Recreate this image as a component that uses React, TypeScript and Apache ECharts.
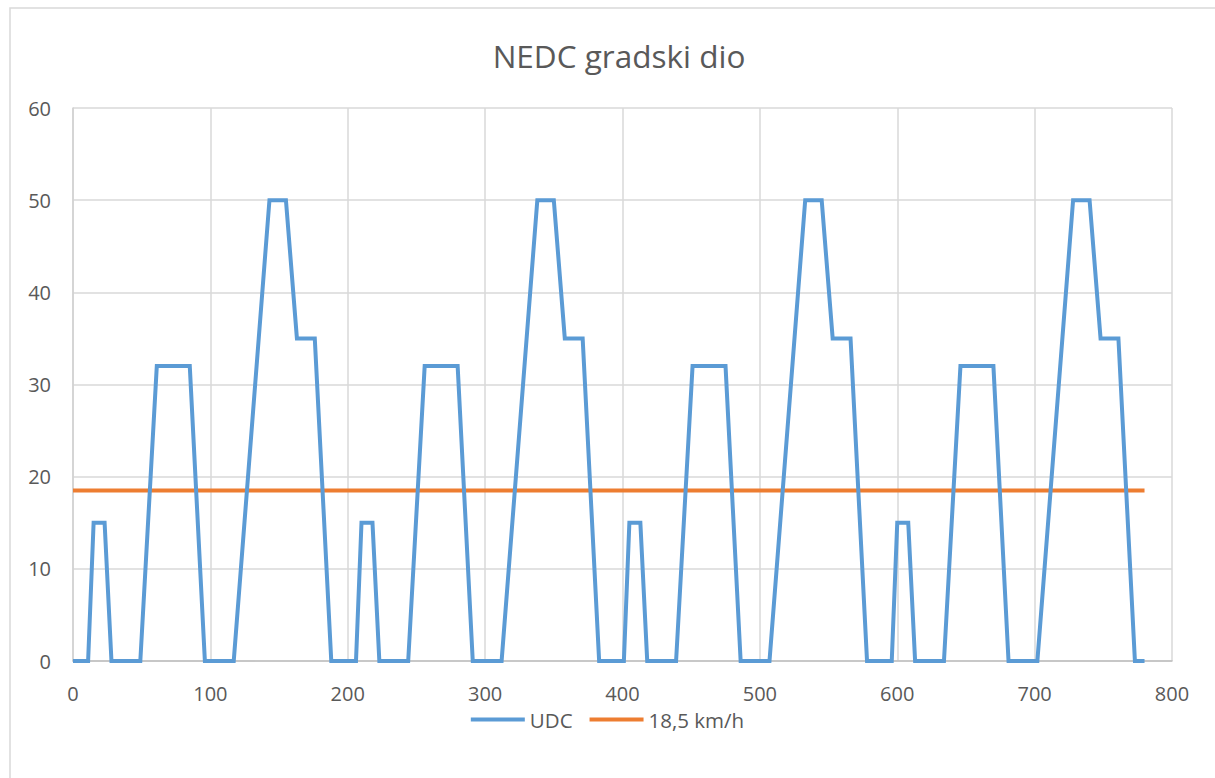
import React, { useEffect, useRef } from "react";
import * as echarts from "echarts";

const titleText = "NEDC gradski dio";
const udcName = "UDC";
const refName = "18,5 km/h";

// time (s) of each breakpoint of the four repeated urban cycles
const udcTime = [
  0, 11, 15, 23, 28, 49, 61, 85, 96, 117, 143, 155, 163, 176, 188,
  195, 206, 210, 218, 223, 244, 256, 280, 291, 312, 338, 350, 358, 371, 383,
  390, 401, 405, 413, 418, 439, 451, 475, 486, 507, 533, 545, 553, 566, 578,
  585, 596, 600, 608, 613, 634, 646, 670, 681, 702, 728, 740, 748, 761, 773,
  780,
];
// speed (km/h) at each breakpoint
const udcSpeed = [
  0, 0, 15, 15, 0, 0, 32, 32, 0, 0, 50, 50, 35, 35, 0,
  0, 0, 15, 15, 0, 0, 32, 32, 0, 0, 50, 50, 35, 35, 0,
  0, 0, 15, 15, 0, 0, 32, 32, 0, 0, 50, 50, 35, 35, 0,
  0, 0, 15, 15, 0, 0, 32, 32, 0, 0, 50, 50, 35, 35, 0,
  0,
];
const refTime = [0, 780];
const refSpeed = [18.5, 18.5];

export default function App() {
  const ref = useRef<HTMLDivElement>(null);
  useEffect(() => {
    if (!ref.current) return;
    const chart = echarts.init(ref.current, null, { renderer: "svg" });
    const font = "'Open Sans', sans-serif";
    chart.setOption({
      animation: false,
      textStyle: { fontFamily: font, color: "#595959" },
      graphic: [
        {
          type: "rect",
          shape: { x: 10, y: 8, width: 1400, height: 1000 },
          style: { fill: "none", stroke: "#d9d9d9", lineWidth: 1.5 },
          silent: true,
        },
      ],
      title: {
        text: titleText,
        left: 614,
        top: 34,
        textAlign: "center",
        textStyle: {
          fontFamily: font,
          fontSize: 31.5,
          fontWeight: "normal",
          color: "#595959",
        },
      },
      legend: {
        bottom: 43,
        left: "center",
        itemWidth: 54,
        itemHeight: 4,
        itemGap: 17,
        icon: "rect",
        textStyle: { fontFamily: font, fontSize: 20.5, color: "#595959" },
        data: [udcName, refName],
      },
      grid: { left: 73, right: 43, top: 108, bottom: 117, containLabel: false },
      xAxis: {
        type: "value",
        min: 0,
        max: 800,
        interval: 100,
        axisLine: { show: true, lineStyle: { color: "#bfbfbf", width: 1.5 } },
        axisTick: { show: false },
        axisLabel: { margin: 22, fontSize: 20, color: "#595959", fontFamily: font },
        splitLine: { show: true, lineStyle: { color: "#d9d9d9", width: 1.5 } },
      },
      yAxis: {
        type: "value",
        min: 0,
        max: 60,
        interval: 10,
        axisLine: { show: true, lineStyle: { color: "#d0d0d0", width: 1.5 } },
        axisTick: { show: false },
        axisLabel: { margin: 22, fontSize: 20, color: "#595959", fontFamily: font },
        splitLine: { show: true, lineStyle: { color: "#d9d9d9", width: 1.5 } },
      },
      series: [
        {
          name: udcName,
          type: "line",
          data: udcTime.map((t, i) => [t, udcSpeed[i]]),
          showSymbol: false,
          symbol: "none",
          lineStyle: { color: "#5B9BD5", width: 4, join: "miter" },
          itemStyle: { color: "#5B9BD5" },
          z: 3,
        },
        {
          name: refName,
          type: "line",
          data: refTime.map((t, i) => [t, refSpeed[i]]),
          showSymbol: false,
          symbol: "none",
          lineStyle: { color: "#ED7D31", width: 4 },
          itemStyle: { color: "#ED7D31" },
          z: 2,
        },
      ],
    });
    return () => chart.dispose();
  }, []);
  return (
    <div
      ref={ref}
      style={{ width: 1215, height: 778, position: "absolute", left: 0, top: 0, background: "#fff" }}
    />
  );
}
